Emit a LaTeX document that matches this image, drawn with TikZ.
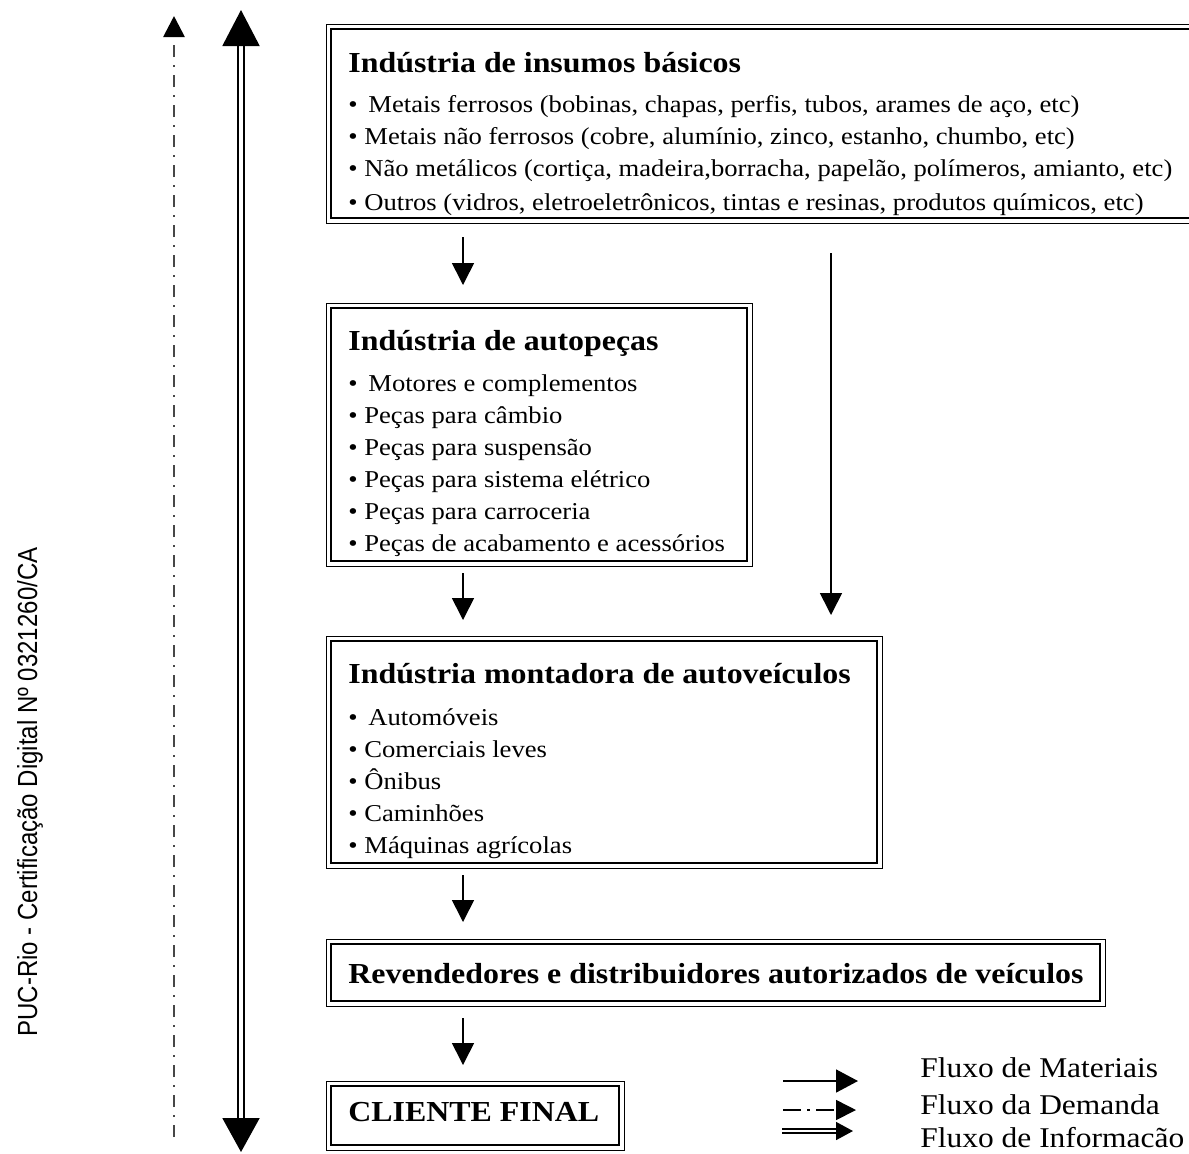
\documentclass[tikz,border=0pt]{standalone}
\usepackage{fontspec}
\usepackage{graphicx}
\setmainfont{Liberation Serif}
\newfontfamily\arial{Liberation Sans}
\usetikzlibrary{arrows.meta}
\usetikzlibrary{fit}

\newcommand{\titulo}{\fontsize{14.5}{19}\selectfont\bfseries}
\newcommand{\corpo}{\fontsize{12.1}{16}\selectfont}
\newcommand{\largo}[1]{\scalebox{1.1}[1]{#1}}
\newcommand{\marca}{\textbullet\ }

\tikzset{
  caixa/.style={draw, line width=1pt, outer sep=0pt, anchor=north west},
  moldura/.style={draw, line width=.5pt, inner sep=2.5pt},
  texto/.style={anchor=base west, inner sep=0pt, font=\corpo},
  legenda/.style={anchor=base west, inner sep=0pt, font=\fontsize{14.3}{19}\selectfont},
  material/.style={-{Triangle[length=11pt,width=11pt]}, line width=.8pt},
  demanda/.style={draw=black!72, line width=1.4pt, dash pattern=on 6pt off 4pt on 1pt off 4pt,
    -{Triangle[length=10.5pt,width=10.5pt,color=black]}},
  informacao/.style={double, double distance=2pt, line width=1pt,
    {Triangle[length=17pt,width=18.5pt]}-{Triangle[length=18pt,width=18.5pt]}},
}

\begin{document}
\begin{tikzpicture}[x=0.5pt, y=-0.5pt]
\useasboundingbox (0,0) rectangle (1189,1153);

% caixas
\node[caixa, minimum width=432.5pt, minimum height=94.5pt] (insumos) at (331,29) {};
\node[caixa, minimum width=208pt, minimum height=126.5pt] (autopecas) at (331,308) {};
\node[caixa, minimum width=273pt, minimum height=111pt] (montadora) at (331,641) {};
\node[caixa, minimum width=384.5pt, minimum height=28.5pt] (revenda) at (331,944) {};
\node[caixa, minimum width=144pt, minimum height=29.5pt] (cliente) at (331,1086) {};
\foreach \n in {insumos, autopecas, montadora, revenda, cliente}
  \node[moldura, fit=(\n)] (\n-moldura) {};

% textos
\node[texto] (insumos-texto) at (348,72) {\largo{\begin{tabular}[t]{@{}l@{}}
  {\titulo Indústria de insumos básicos}\\[4pt]
  \textbullet\hspace{.4em}Metais ferrosos (bobinas, chapas, perfis, tubos, arames de aço, etc)\\
  \marca Metais não ferrosos (cobre, alumínio, zinco, estanho, chumbo, etc)\\
  \marca Não metálicos (cortiça, madeira,borracha, papelão, polímeros, amianto, etc)\\[1.2pt]
  \marca Outros (vidros, eletroeletrônicos, tintas e resinas, produtos químicos, etc)
\end{tabular}}};
\node[texto] (autopecas-texto) at (348,350) {\largo{\begin{tabular}[t]{@{}l@{}}
  {\titulo Indústria de autopeças}\\[4.5pt]
  \textbullet\hspace{.4em}Motores e complementos\\
  \marca Peças para câmbio\\
  \marca Peças para suspensão\\
  \marca Peças para sistema elétrico\\
  \marca Peças para carroceria\\
  \marca Peças de acabamento e acessórios
\end{tabular}}};
\node[texto] (montadora-texto) at (348,683) {\largo{\begin{tabular}[t]{@{}l@{}}
  {\titulo Indústria montadora de autoveículos}\\[5pt]
  \textbullet\hspace{.4em}Automóveis\\
  \marca Comerciais leves\\
  \marca Ônibus\\
  \marca Caminhões\\
  \marca Máquinas agrícolas
\end{tabular}}};
\node[texto, font=\titulo] (revenda-texto) at (348,983) {\largo{Revendedores e distribuidores autorizados de veículos}};
\node[texto, font=\titulo] (cliente-texto) at (348,1121) {\largo{CLIENTE FINAL}};

% fluxo de materiais
\coordinate (eixo) at (463,0);
\coordinate (direto) at (831,0);
\draw[material, shorten <=9.5pt, shorten >=11.5pt] (insumos.south -| eixo) -- (autopecas.north -| eixo);
\draw[material, shorten <=6pt, shorten >=10.5pt] (autopecas.south -| eixo) -- (montadora.north -| eixo);
\draw[material, shorten <=6pt, shorten >=11pt] (montadora.south -| eixo) -- (revenda.north -| eixo);
\draw[material, shorten <=8.5pt, shorten >=10.5pt] (revenda.south -| eixo) -- (cliente.north -| eixo);
\draw[material, shorten <=17.5pt, shorten >=13pt] (insumos.south -| direto) -- (montadora.north -| direto);

% fluxos de demanda e de informacao
\coordinate (demanda-topo) at (174,16);
\coordinate (demanda-base) at (174,1137);
\draw[demanda] (demanda-base) -- (demanda-topo);
\coordinate (info-topo) at (241,10);
\coordinate (info-base) at (241,1152);
\draw[informacao] (info-base) -- (info-topo);

% certificacao
\node[rotate=90, anchor=base, inner sep=0pt, font=\arial\fontsize{12}{14}\selectfont] (certificacao) at (37,792)
  {\scalebox{1}[1.15]{PUC-Rio - Certificação Digital Nº 0321260/CA}};

% legenda
\node[legenda] (leg-materiais) at (920,1077) {\largo{Fluxo de Materiais}};
\node[legenda] (leg-demanda) at (920,1114) {\largo{Fluxo da Demanda}};
\node[legenda] (leg-info) at (920,1147) {\largo{Fluxo de Informacão}};
\coordinate (leg-materiais-ini) at (783,1081);
\coordinate (leg-materiais-fim) at (858,1081);
\coordinate (leg-demanda-ini) at (783,1110);
\coordinate (leg-demanda-fim) at (856,1110);
\coordinate (leg-info-ini) at (782,1131);
\coordinate (leg-info-fim) at (853,1131);
\draw[line width=.8pt, -{Triangle[length=11pt,width=11.5pt]}] (leg-materiais-ini) -- (leg-materiais-fim);
\draw[line width=.8pt, dash pattern=on 9pt off 3pt on 1.5pt off 3pt, -{Triangle[length=10pt,width=10pt]}] (leg-demanda-ini) -- (leg-demanda-fim);
\draw[double, double distance=1.2pt, line width=.8pt, -{Triangle[length=8.5pt,width=9pt]}] (leg-info-ini) -- (leg-info-fim);
\end{tikzpicture}
\end{document}
